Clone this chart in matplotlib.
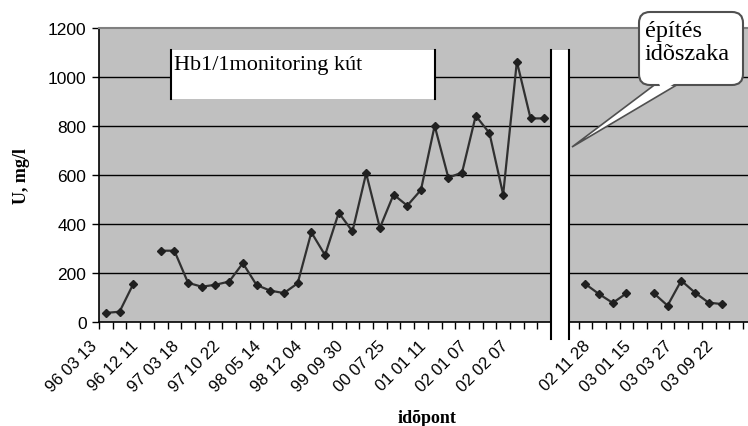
import numpy as np
import matplotlib
matplotlib.use("Agg")
import matplotlib.pyplot as plt
from matplotlib.patches import Rectangle, FancyBboxPatch, Polygon
from matplotlib.transforms import ScaledTranslation

# U concentration (mg/l) per sampling slot, None = no sample
u_values = [37, 42, 155, None, 291, 291, 160, 144, 152, 165, 240, 151, 128, 118,
            158, 366, 273, 446, 370, 607, 384, 520, 475, 539, 801, 589, 610, 842,
            771, 520, 1063, 831, 831, None, None, 155, 114, 78, 117, None, 117,
            67, 169, 120, 79, 73]

# dates shown on the x axis and the slot they belong to
date_slots = [0, 3, 6, 9, 12, 15, 18, 21, 24, 27, 30, 36, 39, 42, 45]
date_labels = ["96 03 13", "96 12 11", "97 03 18", "97 10 22", "98 05 14",
               "98 12 04", "99 09 30", "00 07 25", "01 01 11", "02 01 07",
               "02 02 07", "02 11 28", "03 01 15", "03 03 27", "03 09 22"]

y_ticks = [0, 200, 400, 600, 800, 1000, 1200]
n_slots = 47

serif = "Liberation Serif"
sans = "Liberation Sans"

fig = plt.figure(figsize=(7.48, 4.27), dpi=100)
ax = fig.add_axes([99 / 748, 104 / 427, 649 / 748, 294 / 427])
ax.set_facecolor("#c0c0c0")

y = np.array([np.nan if v is None else v for v in u_values], dtype=float)
x = np.arange(len(y))
ax.plot(x, y, color="#303030", lw=1.6, marker="D", ms=4.3,
        mfc="#202020", mec="#202020", zorder=3)

ax.set_xlim(-0.5, -0.5 + 649 / 13.7)
ax.set_ylim(0, 1200)

# horizontal grid
for v in y_ticks[1:-1]:
    ax.axhline(v, color="black", lw=1, zorder=1)

ax.set_yticks(y_ticks)
ax.set_yticklabels([str(v) for v in y_ticks], fontfamily=sans, fontsize=12.5)
ax.tick_params(axis="y", direction="out", length=5, width=1, pad=4)

# category border ticks + date labels in the middle of slots
ax.set_xticks(np.arange(n_slots + 1) - 0.5)
ax.set_xticklabels([])
ax.tick_params(axis="x", which="major", direction="out", length=5, width=1)
ax.set_xticks(date_slots, minor=True)
ax.set_xticklabels(date_labels, minor=True, rotation=45, ha="right", va="top",
                   fontfamily=sans, fontsize=12)
ax.tick_params(axis="x", which="minor", length=0, pad=11)
shift = ScaledTranslation(-6 / 100, 0, fig.dpi_scale_trans)
for lab in ax.get_xticklabels(minor=True):
    lab.set_transform(lab.get_transform() + shift)

for side in ["left", "bottom"]:
    ax.spines[side].set_color("black")
    ax.spines[side].set_linewidth(1.2)
ax.spines["top"].set_color("#808080")
ax.spines["top"].set_linewidth(1.5)
ax.spines["right"].set_visible(False)

ax.set_ylabel("U, mg/l", fontfamily=serif, fontweight="bold", fontsize=13)
ax.set_xlabel("idõpont", fontfamily=serif, fontweight="bold", fontsize=13)
ax.xaxis.set_label_coords(0.505, -0.295)
ax.yaxis.set_label_coords(-0.106, 0.5)

# title box
ax.add_patch(Rectangle((4.76, 910), 24.0 - 4.76, 200, facecolor="white",
                       edgecolor="none", zorder=4))
ax.plot([4.76, 4.76], [910, 1110], color="black", lw=1.5, zorder=5)
ax.plot([24.0, 24.0], [910, 1110], color="black", lw=1.5, zorder=5)
ax.text(4.95, 1090, "Hb1/1monitoring kút", fontfamily=serif, fontsize=16,
        va="top", ha="left", zorder=6)

# white break for the construction period
ax.add_patch(Rectangle((32.5, -70), 1.33, 1180, facecolor="white",
                       edgecolor="none", zorder=4, clip_on=False))
ax.plot([32.5, 32.5], [-70, 1110], color="black", lw=1.5, zorder=5, clip_on=False)
ax.plot([33.83, 33.83], [-70, 1110], color="black", lw=1.5, zorder=5, clip_on=False)

# callout in pixel coordinates
ov = fig.add_axes([0, 0, 1, 1], facecolor="none")
ov.set_xlim(0, 748)
ov.set_ylim(427, 0)
ov.axis("off")
ov.add_patch(Polygon([[657, 84], [680, 84], [572, 148]], closed=True,
                     facecolor="white", edgecolor="#505050", lw=1.2, zorder=2))
ov.add_patch(FancyBboxPatch((639, 13), 104, 73, boxstyle="round,pad=0,rounding_size=11",
                            facecolor="white", edgecolor="#505050", lw=1.5, zorder=3))
ov.add_patch(Polygon([[658, 82], [679, 82], [662, 92]], closed=True,
                     facecolor="white", edgecolor="none", zorder=4))
ov.text(645, 21, "építés\nidõszaka", fontfamily=serif, fontsize=17.5,
        va="top", ha="left", linespacing=1.15, zorder=5)

fig.savefig("out.png", dpi=100)
